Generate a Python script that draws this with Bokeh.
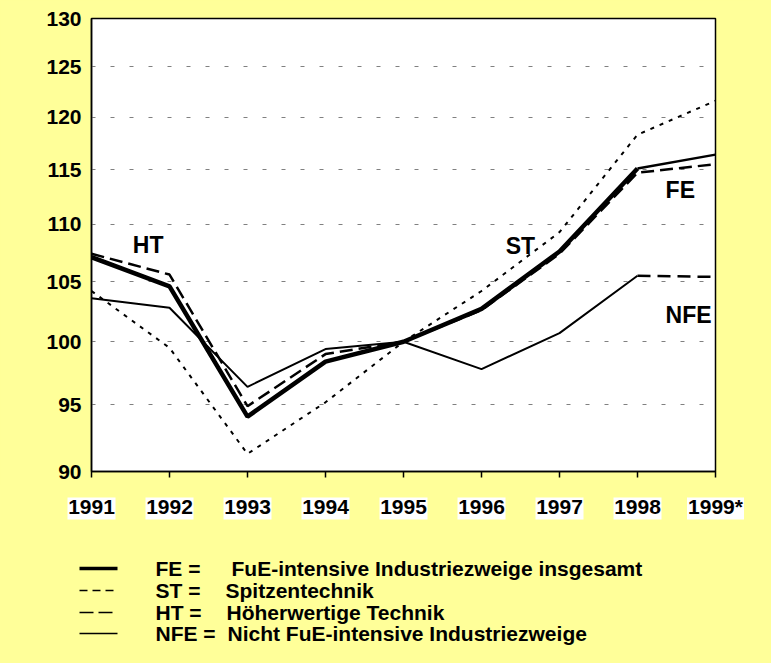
from bokeh.plotting import figure
from bokeh.layouts import column, row
from bokeh.models import Range1d, FixedTicker
from bokeh.core.properties import value
from bokeh.embed import file_html
from bokeh.resources import INLINE

# ---- data ----
years = [1991, 1992, 1993, 1994, 1995, 1996, 1997, 1998, 1999]
year_labels = ["1991", "1992", "1993", "1994", "1995", "1996", "1997", "1998", "1999*"]
fe = [107.1, 104.6, 94.1, 98.4, 100.0, 102.7, 107.6, 115.1, 116.4]
st = [104.2, 99.5, 91.3, 95.2, 100.0, 104.2, 109.3, 118.3, 121.6]
ht = [107.4, 105.6, 94.9, 99.0, 100.0, 102.6, 107.4, 114.7, 115.5]
nfe = [103.6, 102.8, 96.4, 99.4, 100.0, 97.8, 100.7, 105.5, 105.4]
y_ticks = [90, 95, 100, 105, 110, 115, 120, 125, 130]

series_labels = ["HT", "ST", "FE", "NFE"]
legend_keys = ["FE =", "ST =", "HT =", "NFE ="]
legend_texts = ["FuE-intensive Industriezweige insgesamt", "Spitzentechnik",
                "Höherwertige Technik", "Nicht FuE-intensive Industriezweige"]

FONT = "Liberation Sans"
YELLOW = "#FFFF99"
W, H = 755, 647
FW, FH = 624, 453
LEFT, TOP, BOTTOM = 91, 18, 13
H1 = TOP + FH + BOTTOM
H2 = H - H1


def px_to_x(px):
    """horizontal pixel offset from frame left -> data x"""
    return years[0] + px * (years[-1] - years[0]) / FW


# ---------------- main chart ----------------
p = figure(frame_width=FW, frame_height=FH,
           min_border_left=LEFT, min_border_right=W - LEFT - FW, min_border_top=TOP,
           min_border_bottom=BOTTOM,
           x_range=Range1d(years[0], years[-1]), y_range=Range1d(90, 130), y_axis_type="log",
           output_backend="svg", toolbar_location=None,
           background_fill_color="white", border_fill_color=YELLOW)
p.outline_line_color = "black"
p.outline_line_width = 1.5

ya = p.yaxis[0]
ya.ticker = FixedTicker(ticks=y_ticks)
ya.major_label_overrides = {t: str(t) for t in y_ticks}
ya.major_tick_out = 0
ya.major_tick_in = 0
ya.minor_tick_out = 0
ya.minor_tick_in = 0
ya.major_label_standoff = 10
ya.major_label_text_font = FONT
ya.major_label_text_font_style = "bold"
ya.major_label_text_font_size = "21px"
ya.major_label_text_color = "black"
ya.axis_line_color = "black"
ya.axis_line_width = 1.5

# x axis: only tick marks here, the year labels are drawn below on white boxes
xa = p.xaxis[0]
xa.ticker = FixedTicker(ticks=years)
xa.major_tick_out = 6
xa.major_tick_in = 0
xa.minor_tick_out = 0
xa.minor_tick_in = 0
xa.major_tick_line_color = "black"
xa.major_tick_line_width = 1.5
xa.axis_line_color = "black"
xa.axis_line_width = 1.5
xa.major_label_standoff = 0
xa.major_label_text_font_size = "1px"
xa.major_label_text_color = None

p.xgrid.grid_line_color = None
p.ygrid.ticker = FixedTicker(ticks=y_ticks[1:-1])
p.ygrid.grid_line_color = "#808080"
p.ygrid.grid_line_dash = "4 15"
p.ygrid.grid_line_width = 1

p.line(years[:8], nfe[:8], line_color="black", line_width=2)
p.line(years[7:], nfe[7:], line_color="black", line_width=2.5, line_dash="13 7")
p.line(years, st, line_color="black", line_width=2, line_dash="4 6")
p.line(years, ht, line_color="black", line_width=2.5, line_dash="13 6")
p.line(years[:8], fe[:8], line_color="black", line_width=4.5)
p.line(years[7:], fe[7:], line_color="black", line_width=2.5)

lab_x = [1991.53, 1996.31, 1998.36, 1998.36]
lab_y = [108.2, 108.1, 113.1, 102.2]
p.text(x=lab_x, y=lab_y, text=series_labels, text_font=value(FONT), text_font_style="bold",
       text_font_size="23px", text_color="black", text_align="left", text_baseline="middle")

# ---------------- x labels + legend strip ----------------
q = figure(width=W, height=H2, min_border=0,
           min_border_left=0, min_border_right=0, min_border_top=0, min_border_bottom=0,
           x_range=Range1d(px_to_x(-LEFT), px_to_x(W - LEFT)), y_range=Range1d(H2, 0),
           x_axis_location=None, y_axis_location=None,
           output_backend="svg", toolbar_location=None,
           background_fill_color=YELLOW, border_fill_color=YELLOW)
q.outline_line_color = None
q.grid.grid_line_color = None

# year labels on white boxes (local y = page y - 485)
box_w = [48] * 8 + [57]
q.rect(x=years, y=[24] * len(years), width=box_w, height=[22] * len(years),
       width_units="screen", height_units="screen", fill_color="white", line_color=None)
q.text(x=years, y=[22] * len(years), text=year_labels, text_font=value(FONT),
       text_font_style="bold", text_font_size="21px", text_color="black",
       text_align="center", text_baseline="middle")

# legend
row_y = [84, 106, 128, 149]
line_x0, line_x1 = px_to_x(79 - LEFT), px_to_x(117 - LEFT)
key_x = px_to_x(155 - LEFT)
desc_x = [px_to_x(v - LEFT) for v in (231, 225, 226, 227)]
styles = [dict(line_width=3.5), dict(line_width=1.5, line_dash="8 5"),
          dict(line_width=1.5, line_dash="14 5"), dict(line_width=1.5)]
for i in range(4):
    q.line([line_x0, line_x1], [row_y[i], row_y[i]], line_color="black", **styles[i])
q.text(x=[key_x] * 4, y=row_y, text=legend_keys, text_font=value(FONT), text_font_style="bold",
       text_font_size="21px", text_color="black", text_align="left", text_baseline="middle")
q.text(x=desc_x, y=row_y, text=legend_texts, text_font=value(FONT), text_font_style="bold",
       text_font_size="21px", text_color="black", text_align="left", text_baseline="middle")

bg = {"background-color": YELLOW, "box-shadow": "0 0 0 40px " + YELLOW}
layout = column(p, row(q, styles={"background-color": YELLOW}), spacing=0, styles=bg)
open("out.html", "w").write(file_html(layout, INLINE))
